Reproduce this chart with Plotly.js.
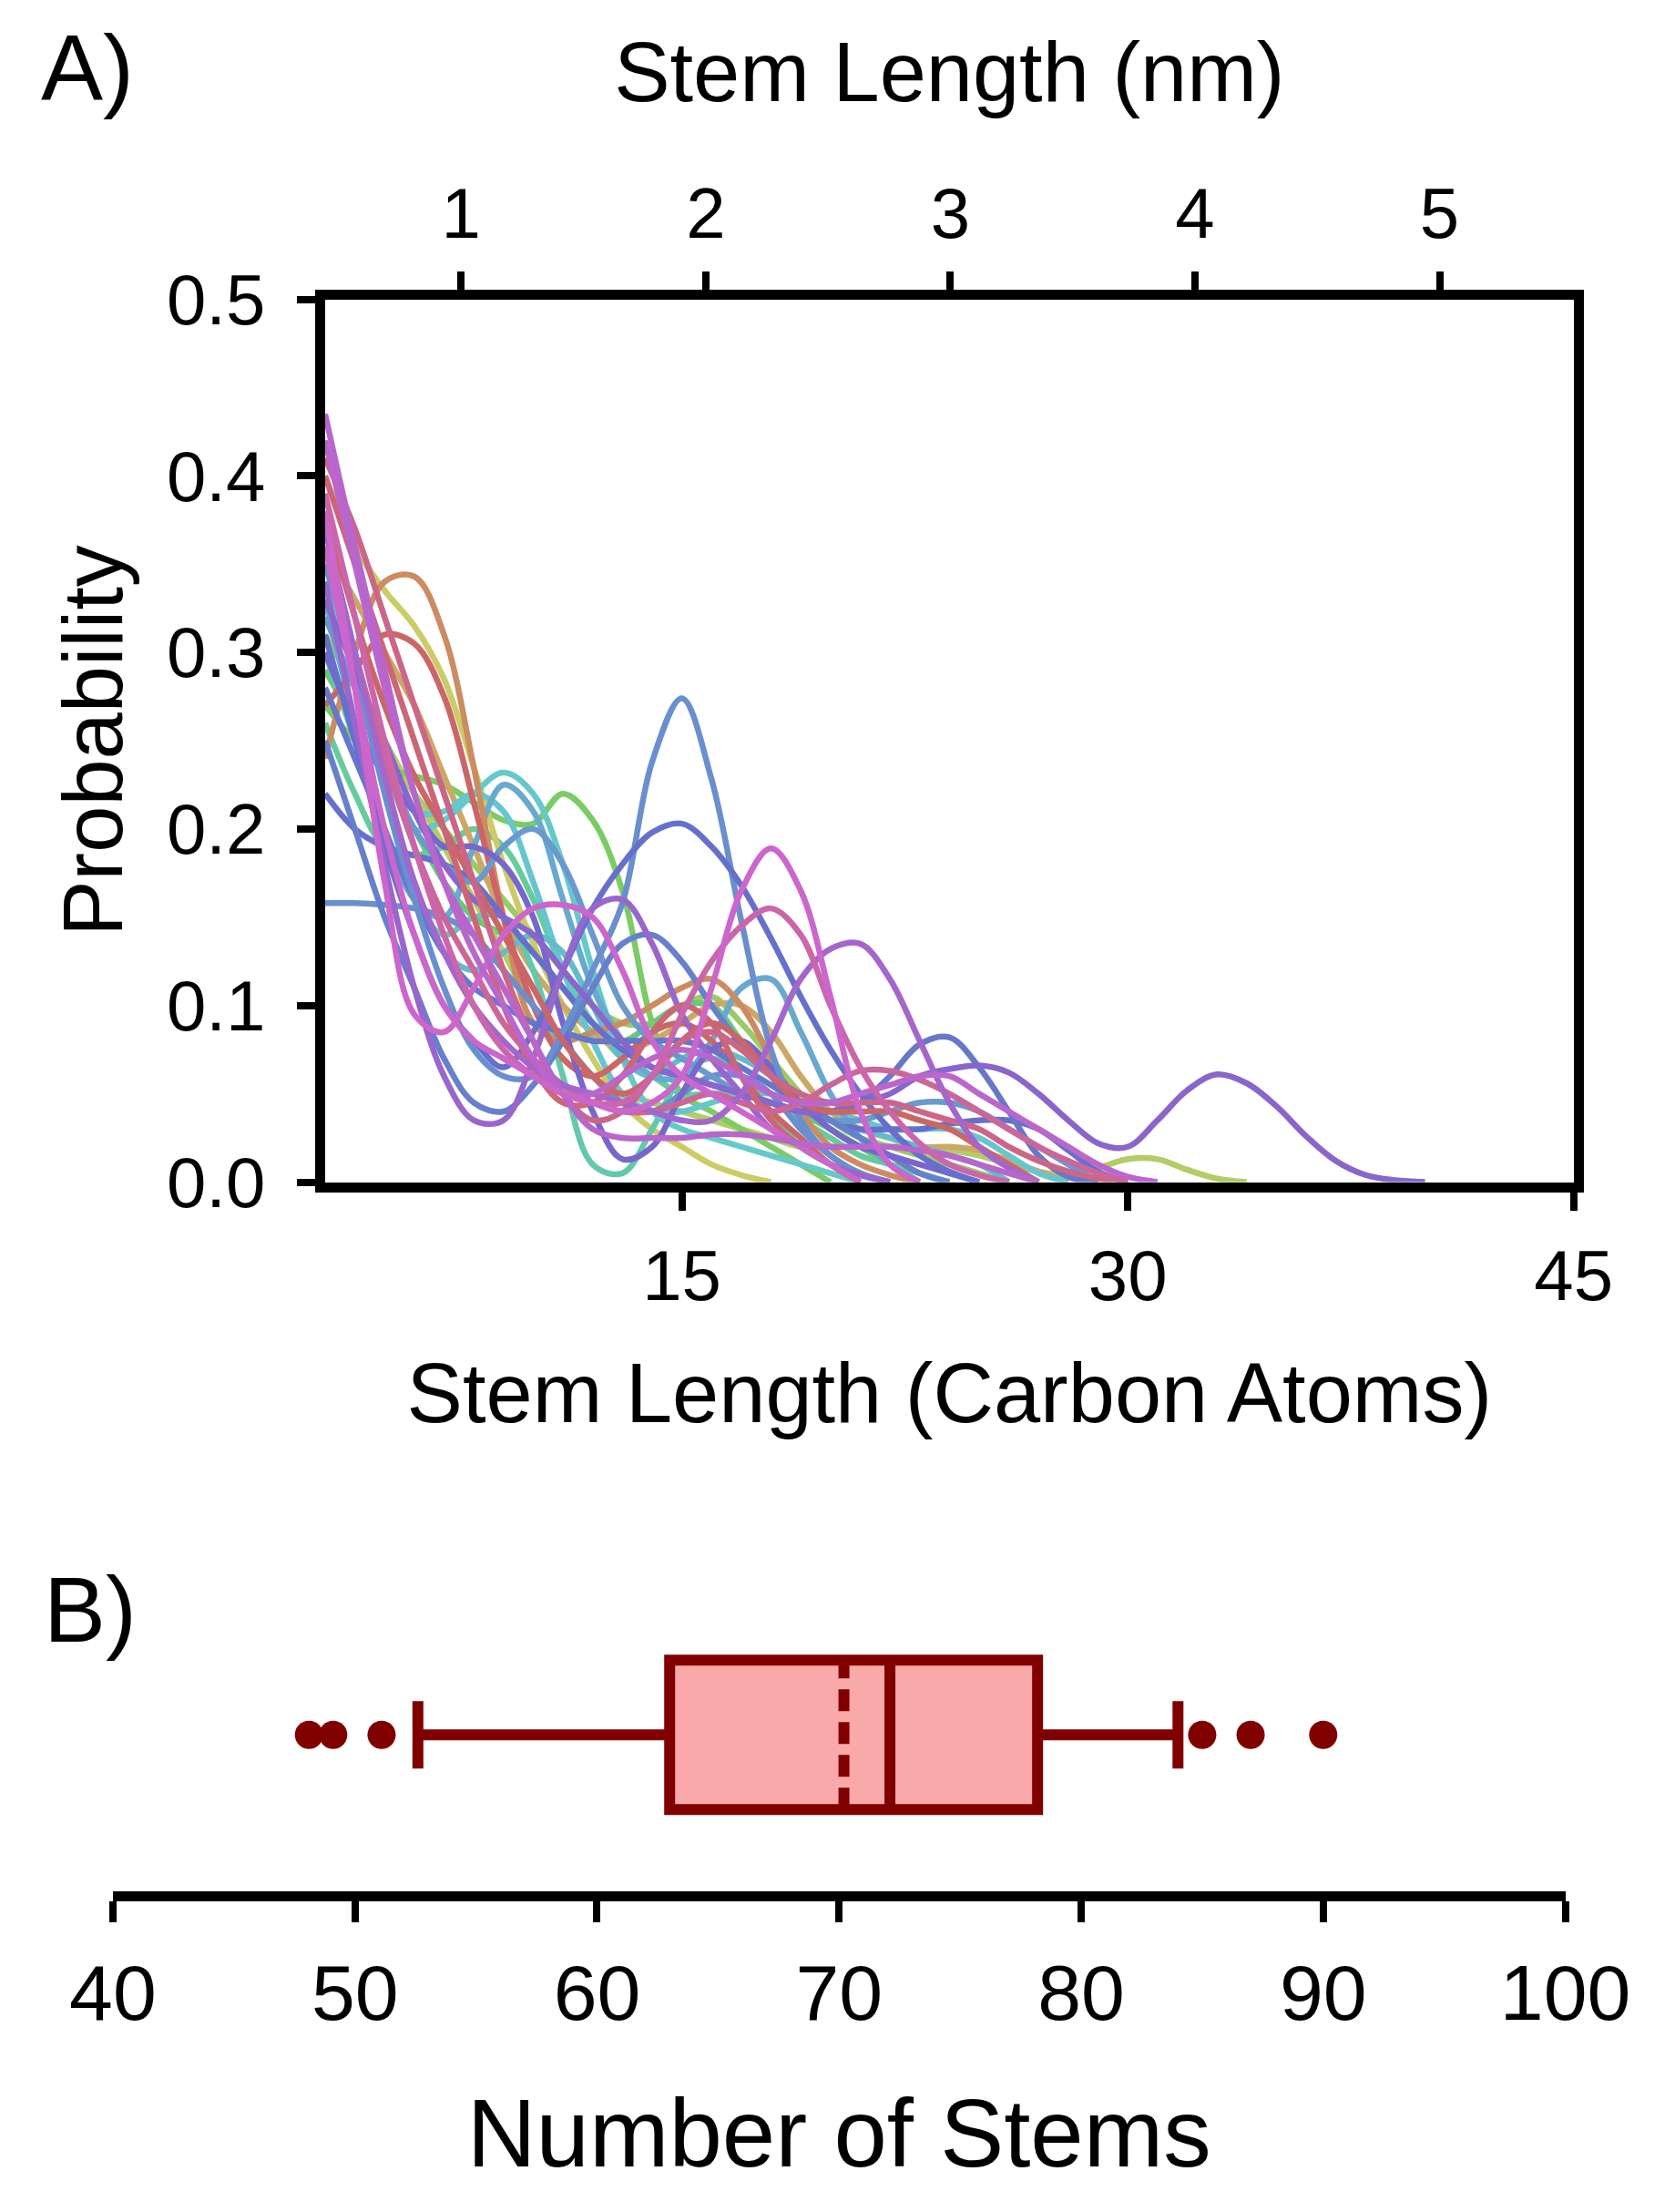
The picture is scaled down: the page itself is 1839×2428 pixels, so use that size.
<!DOCTYPE html>
<html>
<head>
<meta charset="utf-8">
<script src="https://cdn.plot.ly/plotly-3.0.1.min.js"></script>
<style>html,body{margin:0;padding:0;background:#fff;}#chart{width:1839px;height:2428px;}</style>
</head>
<body>
<div id="chart"></div>
<script>
// ---- Panel A data: stem length (carbon atoms) and probability curves ----
const stemLength = [3,4,5,6,7,8,9,10,11,12,13,14,15,16,17,18,19,20,21,22,23,24,25,26,27,28,29,30,31,32,33,34,35,36,37,38,39,40,41,42,43,44,45];
const nmTicks = [1,2,3,4,5];
const carbonTicks = [15,30,45];
const probTicks = [0,0.1,0.2,0.3,0.4,0.5];

const p01 = [0.24,0.30,0.34,0.343,0.31,0.235,0.15,0.09,0.08,0.085,0.09,0.10,0.11,0.115,0.10,0.07,0.04,0.02,0.01,0.004,0];
const p02 = [0.40,0.36,0.335,0.315,0.285,0.235,0.18,0.135,0.10,0.07,0.045,0.03,0.02,0.01,0.004,0];
const p03 = [0.27,0.29,0.31,0.305,0.275,0.215,0.15,0.10,0.07,0.06,0.07,0.085,0.09,0.08,0.06,0.04,0.025,0.01,0];
const p04 = [0.35,0.29,0.22,0.16,0.11,0.075,0.06,0.06,0.085,0.12,0.158,0.238,0.274,0.228,0.148,0.075,0.035,0.015,0.005,0];
const p05 = [0.31,0.25,0.19,0.14,0.10,0.08,0.065,0.085,0.12,0.155,0.18,0.198,0.203,0.19,0.168,0.138,0.105,0.075,0.05,0.03,0.015,0.006,0];
const p06 = [0.36,0.28,0.20,0.14,0.10,0.08,0.07,0.06,0.05,0.045,0.04,0.045,0.06,0.11,0.165,0.189,0.165,0.105,0.04,0.01,0];
const p07 = [0.39,0.32,0.25,0.19,0.14,0.10,0.075,0.06,0.05,0.045,0.045,0.06,0.095,0.125,0.145,0.155,0.14,0.10,0.065,0.04,0.022,0.01,0.004,0];
const p08 = [0.37,0.30,0.23,0.17,0.13,0.10,0.08,0.065,0.055,0.05,0.045,0.04,0.035,0.035,0.05,0.08,0.115,0.132,0.135,0.115,0.08,0.045,0.02,0.008,0];
const p09 = [0.33,0.29,0.25,0.21,0.18,0.16,0.15,0.14,0.12,0.10,0.08,0.065,0.06,0.055,0.05,0.045,0.04,0.04,0.045,0.05,0.06,0.064,0.066,0.062,0.05,0.035,0.022,0.02,0.035,0.052,0.061,0.056,0.043,0.026,0.012,0.004,0.001,0];
const p10 = [0.28,0.24,0.20,0.16,0.13,0.11,0.10,0.09,0.085,0.08,0.08,0.08,0.08,0.075,0.065,0.055,0.045,0.04,0.045,0.06,0.078,0.082,0.065,0.04,0.015,0.003,0];
const p11 = [0.27,0.25,0.235,0.23,0.225,0.215,0.205,0.203,0.22,0.205,0.165,0.09,0.05,0.04,0.03,0.02,0.01,0];
const p12 = [0.36,0.30,0.24,0.20,0.205,0.22,0.232,0.22,0.18,0.12,0.07,0.04,0.03,0.025,0.02,0.015,0.01,0.005,0];
const p13 = [0.33,0.26,0.20,0.16,0.15,0.19,0.225,0.21,0.16,0.11,0.08,0.06,0.06,0.08,0.11,0.115,0.085,0.05,0.025,0.01,0];
const p14 = [0.30,0.25,0.20,0.16,0.14,0.15,0.15,0.12,0.06,0.01,0.005,0.03,0.06,0.07,0.06,0.04,0.02,0.01,0];
const p15 = [0.34,0.26,0.18,0.11,0.06,0.035,0.035,0.07,0.12,0.155,0.16,0.135,0.095,0.07,0.05,0.03,0.02,0.01,0.004,0];
const p16 = [0.25,0.20,0.15,0.11,0.07,0.045,0.04,0.055,0.08,0.11,0.135,0.14,0.125,0.10,0.078,0.06,0.045,0.035,0.025,0.015,0.005,0];
const p17 = [0.38,0.28,0.17,0.095,0.085,0.11,0.14,0.155,0.157,0.15,0.12,0.08,0.06,0.05,0.04,0.03,0.02,0.01,0];
const p18 = [0.158,0.158,0.157,0.155,0.15,0.14,0.12,0.10,0.08,0.06,0.045,0.04,0.05,0.06,0.06,0.05,0.03,0.015,0.005,0];
const p19 = [0.435,0.36,0.29,0.22,0.17,0.14,0.11,0.08,0.05,0.03,0.025,0.025,0.025,0.027,0.027,0.025,0.022,0.02,0.02,0.02,0.018,0.015,0.01,0.005,0];
const p20 = [0.36,0.30,0.24,0.19,0.15,0.12,0.09,0.07,0.055,0.045,0.04,0.04,0.045,0.05,0.045,0.04,0.045,0.055,0.063,0.063,0.058,0.05,0.04,0.03,0.02,0.012,0.005,0];
const p21 = [0.40,0.35,0.30,0.25,0.20,0.15,0.10,0.065,0.045,0.045,0.06,0.085,0.10,0.09,0.06,0.035,0.02,0.01,0];
const p22 = [0.38,0.32,0.27,0.23,0.20,0.17,0.14,0.11,0.08,0.06,0.05,0.06,0.08,0.09,0.08,0.06,0.045,0.04,0.04,0.04,0.035,0.03,0.02,0.01,0];
const p23 = [0.33,0.29,0.25,0.22,0.19,0.16,0.13,0.10,0.08,0.06,0.05,0.045,0.04,0.035,0.03,0.025,0.02,0.02,0.02,0.02,0.02,0.018,0.015,0.01,0.006,0.004,0.008,0.013,0.013,0.007,0.002,0];
const p24 = [0.29,0.26,0.23,0.20,0.17,0.15,0.14,0.13,0.11,0.09,0.08,0.09,0.10,0.10,0.08,0.06,0.04,0.03,0.02,0.01,0];
const p25 = [0.26,0.22,0.19,0.185,0.19,0.20,0.19,0.16,0.12,0.09,0.07,0.06,0.05,0.05,0.05,0.045,0.035,0.025,0.015,0.01,0.005,0];
const p26 = [0.37,0.30,0.23,0.17,0.13,0.12,0.13,0.14,0.13,0.10,0.07,0.06,0.07,0.075,0.07,0.06,0.045,0.035,0.03,0.025,0.02,0.015,0.01,0];
const p27 = [0.32,0.28,0.24,0.20,0.18,0.17,0.19,0.20,0.18,0.14,0.10,0.08,0.07,0.06,0.05,0.045,0.04,0.035,0.035,0.04,0.045,0.045,0.04,0.03,0.02,0.01,0];
const p28 = [0.36,0.33,0.30,0.27,0.23,0.19,0.15,0.12,0.10,0.085,0.075,0.08,0.09,0.10,0.10,0.085,0.06,0.04,0.03,0.025,0.02,0.02,0.018,0.012,0.006,0];
const p29 = [0.30,0.26,0.23,0.21,0.19,0.19,0.18,0.15,0.09,0.04,0.013,0.02,0.05,0.075,0.08,0.065,0.045,0.03,0.02,0.015,0.01,0.005,0];
const p30 = [0.42,0.35,0.28,0.22,0.17,0.13,0.10,0.07,0.05,0.05,0.06,0.07,0.075,0.07,0.06,0.05,0.045,0.045,0.05,0.055,0.06,0.06,0.05,0.04,0.03,0.02,0.01,0.003,0];
const p31 = [0.31,0.28,0.25,0.22,0.20,0.18,0.16,0.14,0.12,0.10,0.09,0.09,0.10,0.105,0.09,0.07,0.05,0.035,0.025,0.02,0.015,0.01,0.005,0];
const p32 = [0.34,0.29,0.24,0.21,0.21,0.22,0.21,0.17,0.12,0.08,0.05,0.04,0.04,0.045,0.05,0.05,0.045,0.04,0.035,0.03,0.03,0.03,0.025,0.015,0.005,0];
const p33 = [0.41,0.37,0.32,0.27,0.22,0.17,0.12,0.08,0.05,0.035,0.04,0.06,0.08,0.085,0.075,0.06,0.05,0.045,0.045,0.045,0.04,0.035,0.03,0.02,0.012,0.006,0.002,0];
const p34 = [0.22,0.20,0.19,0.185,0.18,0.17,0.15,0.13,0.11,0.09,0.075,0.065,0.06,0.055,0.05,0.045,0.04,0.035,0.03,0.03,0.03,0.033,0.035,0.035,0.03,0.018,0.006,0];

// drawing order: back to front
const curves = [p31,p24,p23,p11,p25,p02,p28,p14,p12,p32,p26,p13,p01,p03,p18,p34,p27,p10,p16,p29,p04,p05,p15,p09,p22,p21,p33,p20,p08,p17,p30,p19,p07,p06];
const curveColors = ['#9acb67','#66c97a','#b3cc66','#7acc63','#66cc9c','#cdcb66','#cca865','#62c9ad','#66c9c9','#66c6cf','#62bccc','#67a9cf','#cc8c62','#cc6666','#6a8fce','#6670cc','#6a99cd','#6677cc','#6680cc','#7766cc','#6a8fcf','#6670cc','#9966cc','#8866cc','#cc6666','#cc6677','#cc6688','#cc6699','#a466cc','#cc66cc','#bb66cc','#b866cc','#cc66aa','#cc66cc'];

// ---- Panel B data: number of stems box summary ----
const boxStats = {q1: 63.0, median: 72.1, q3: 78.2, lowerfence: 52.6, upperfence: 84.0, mean: 70.2};
const outliers = [48.1, 49.1, 51.1, 85.0, 87.0, 90.0];
const stemCountTicks = [40,50,60,70,80,90,100];

const FONT = 'Liberation Sans, Arial, sans-serif';
const traces = [];
curves.forEach((c, i) => {
  traces.push({
    type: 'scatter', mode: 'lines',
    x: stemLength.slice(0, c.length), y: c,
    xaxis: 'x', yaxis: 'y',
    line: {shape: 'spline', smoothing: 1, width: 6.5, color: curveColors[i]},
    hoverinfo: 'skip'
  });
});
// invisible trace to activate top nm axis
traces.push({type:'scatter', mode:'lines', x:[1,5], y:[0,0], xaxis:'x3', yaxis:'y', line:{width:0}, opacity:0, hoverinfo:'skip', showlegend:false});

traces.push({
  type: 'box', orientation: 'h',
  y: [0],
  q1: [boxStats.q1], median: [boxStats.median], q3: [boxStats.q3],
  lowerfence: [boxStats.lowerfence], upperfence: [boxStats.upperfence], mean: [boxStats.mean],
  boxmean: true, boxpoints: false,
  width: 0.588, whiskerwidth: 0.45,
  fillcolor: '#f9a9a9',
  line: {color: '#800000', width: 12},
  xaxis: 'x2', yaxis: 'y2', hoverinfo: 'skip'
});
traces.push({
  type: 'scatter', mode: 'markers',
  x: outliers, y: outliers.map(() => 0),
  marker: {color: '#800000', size: 31},
  xaxis: 'x2', yaxis: 'y2', hoverinfo: 'skip'
});

const axisCommon = {
  showline: true, linecolor: '#000', linewidth: 11,
  ticks: 'outside', ticklen: 20, tickwidth: 8, tickcolor: '#000',
  showgrid: false, zeroline: false,
  tickfont: {family: FONT, size: 78, color: '#000'}
};

const layout = {
  width: 1839, height: 2428,
  margin: {l: 0, r: 0, t: 0, b: 0, pad: 0},
  paper_bgcolor: '#fff', plot_bgcolor: 'rgba(0,0,0,0)',
  showlegend: false,
  font: {family: FONT, color: '#000'},
  xaxis: Object.assign({}, axisCommon, {
    domain: [0.1941, 0.9395], range: [3, 45], anchor: 'y',
    tickvals: carbonTicks, ticklabelstandoff: 5,
    title: {text: 'Stem Length (Carbon Atoms)', font: {family: FONT, size: 92, color: '#000'}, standoff: 58}
  }),
  xaxis3: Object.assign({}, axisCommon, {
    overlaying: 'x', side: 'top', anchor: 'y',
    range: [0.444, 5.548], tickvals: nmTicks, ticklabelstandoff: 5,
    title: {text: 'Stem Length (nm)', font: {family: FONT, size: 92, color: '#000'}, standoff: 53}
  }),
  yaxis: Object.assign({}, axisCommon, {
    domain: [0.4656, 0.8647], range: [0, 0.5], anchor: 'x',
    mirror: true, tickvals: probTicks, tickformat: '.1f', ticklabelstandoff: 19,
    title: {text: 'Probability', font: {family: FONT, size: 92, color: '#000'}, standoff: 22}
  }),
  xaxis2: Object.assign({}, axisCommon, {
    domain: [0.0674, 0.9345], range: [40, 100], anchor: 'y2',
    tickvals: stemCountTicks, ticklen: 23,
    tickfont: {family: FONT, size: 86, color: '#000'}, ticklabelstandoff: 4,
    title: {text: 'Number of Stems', font: {family: FONT, size: 105, color: '#000'}, standoff: 75}
  }),
  yaxis2: {domain: [0.1450, 0.26], range: [-0.615, 0.385], visible: false, anchor: 'x2', fixedrange: true},
  annotations: [
    {text: 'A)', xref: 'paper', yref: 'paper', x: 43/1839, y: 1 - 75/2428, xanchor: 'left', yanchor: 'middle', showarrow: false, font: {family: FONT, size: 102, color: '#000'}},
    {text: 'B)', xref: 'paper', yref: 'paper', x: 46/1839, y: 1 - 1767/2428, xanchor: 'left', yanchor: 'middle', showarrow: false, font: {family: FONT, size: 102, color: '#000'}}
  ]
};

Plotly.newPlot('chart', traces, layout, {staticPlot: true, displayModeBar: false});
</script>
</body>
</html>
